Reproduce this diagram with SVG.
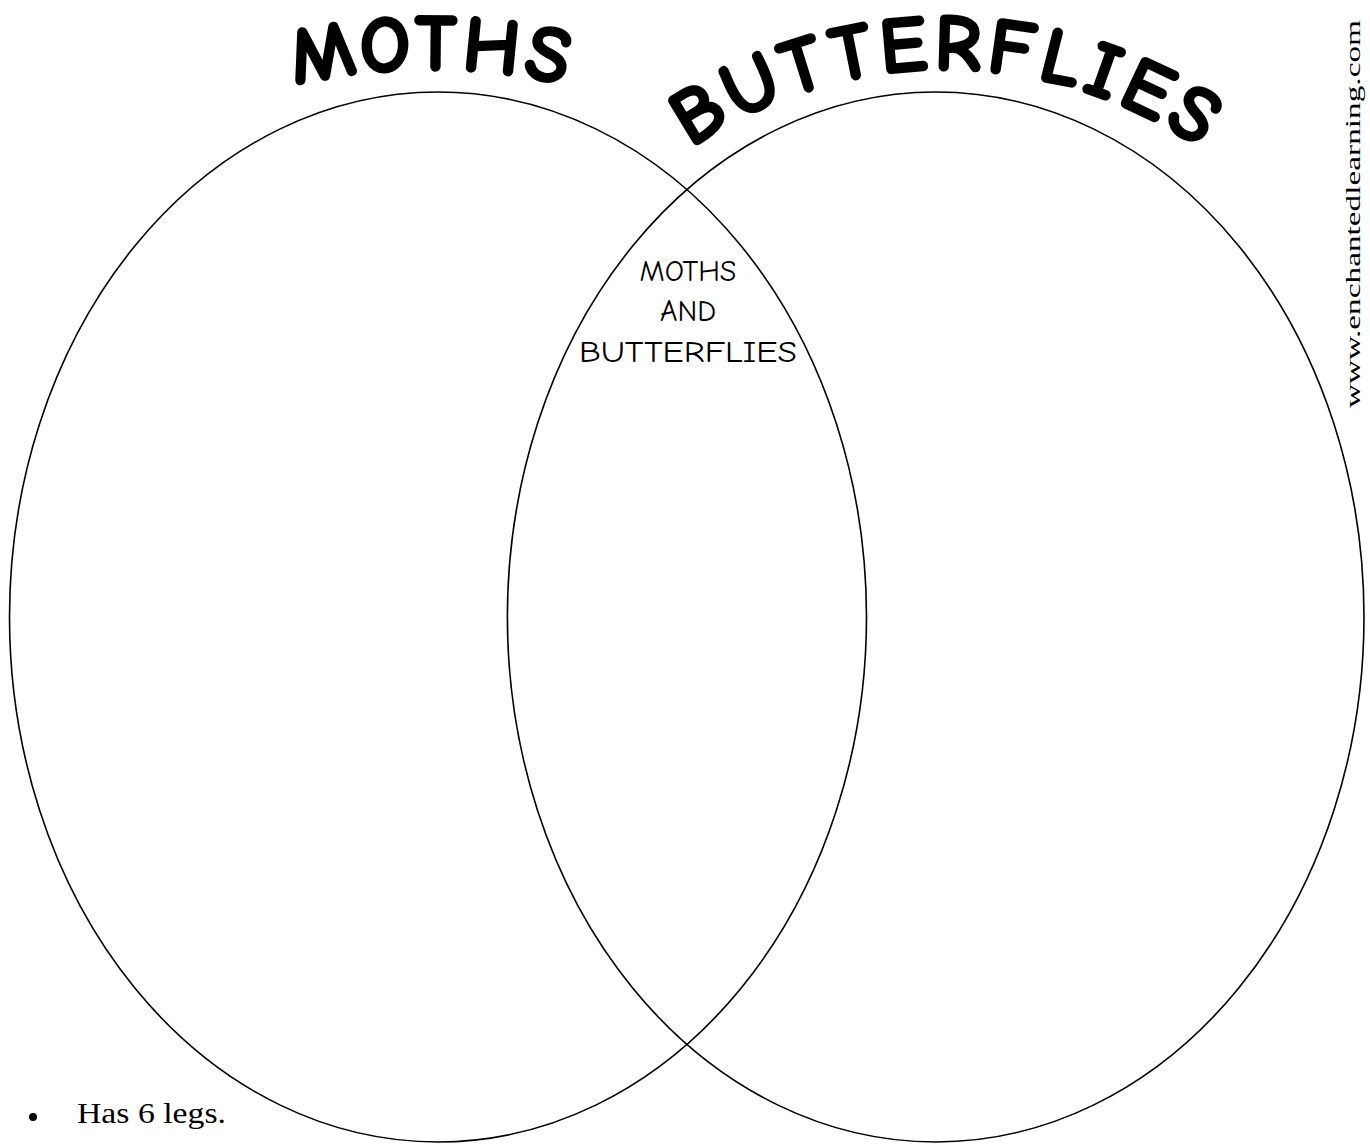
<svg xmlns="http://www.w3.org/2000/svg" width="1370" height="1146" viewBox="0 0 1370 1146">
<style>
.oval{fill:none;stroke:#000;stroke-width:1.6}
.title{font-family:"Comic Neue","Noto Sans",sans-serif;font-weight:bold;font-size:80px;fill:#000;stroke:#000;stroke-width:2.5;stroke-linejoin:round}
.mid{font-family:"Comic Neue","Noto Sans",sans-serif;font-size:30px;fill:#000;text-anchor:middle}
.serif{font-family:"Liberation Serif",serif;fill:#000}
</style>
<defs>
<path id="arcM" d="M 230,104.3 A 600 600 0 0 1 630,104.3"/>
<path id="arcB" d="M 560,287 A 450 450 0 0 1 1330,287"/>
</defs>
<rect width="1370" height="1146" fill="#fff"/>
<g id="connectors"></g>
<g id="moths">
<ellipse class="oval" cx="438" cy="617" rx="428.5" ry="525"/>
<text class="title"><textPath href="#arcM" startOffset="50%" text-anchor="middle" textLength="272" lengthAdjust="spacing">MOTHS</textPath></text>
</g>
<g id="butterflies">
<ellipse class="oval" cx="935.7" cy="617" rx="428.3" ry="525"/>
<text class="title"><textPath href="#arcB" startOffset="50%" text-anchor="middle" textLength="540" lengthAdjust="spacing">BUTTERFLIES</textPath></text>
</g>
<g id="both">
<text class="mid" x="688" y="281">MOTHS</text>
<text class="mid" x="688" y="321">AND</text>
<text class="mid" x="688" y="362" textLength="218" lengthAdjust="spacingAndGlyphs">BUTTERFLIES</text>
</g>
<g id="note">
<circle cx="33" cy="1117" r="4" fill="#000"/>
<text class="serif" x="77" y="1123" font-size="30" textLength="149" lengthAdjust="spacingAndGlyphs">Has 6 legs.</text>
</g>
<g id="credit">
<text class="serif" font-size="22" transform="translate(1360,408) rotate(-90)" textLength="388" lengthAdjust="spacingAndGlyphs">www.enchantedlearning.com</text>
</g>
</svg>
